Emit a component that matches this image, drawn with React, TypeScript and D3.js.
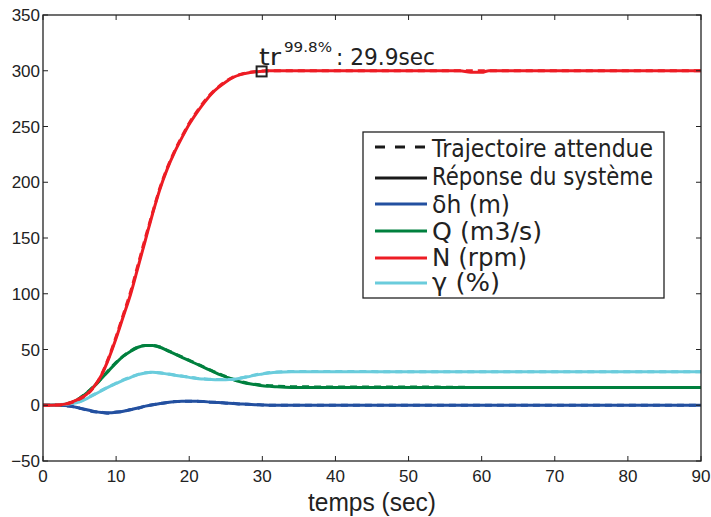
import React from "react";
import * as d3 from "d3";

const TIME = [0,2,3,4,5,6,7,8,9,10,11,12,13,14,15,16,17,18,19,20,21,22,23,24,25,26,27,28,29,30,31,32,34,36,40,50,57,58.5,60,61,70,80,90];

const N_RESP = [0,0.3,1,3,6,10,17,27,42,60,80,100,124,148,172,194,212,227,240,252,262,271,279,285,290,294,296.5,298,299,299.5,300,300,300,300,300,300,300,298.6,298.6,300,300,300,300];
const N_REF = [0,0.2,0.8,2.6,5.5,9.5,16.5,27.5,43,61.5,81.5,102,126,150,173,195,213,228,241,253,263,272,279.5,285.5,290.5,294.3,296.7,298.3,299.2,299.7,300,300,300,300,300,300,300,300,300,300,300,300,300];

const Q_RESP = [0,0.2,0.8,2.5,6,11,17,24,31,38,44,48.5,52,53.5,53.5,52,49,46,43,40,37,34,31,28,25.5,23,21,19.5,18.5,17.5,17,16.5,16,16,16,16,16,16,16,16,16,16,16];
const Q_REF = [0,0.3,1,2.8,6.3,11.3,17.3,24.3,31.5,38.5,44.3,48.8,52.2,53.7,53.6,52.2,49.3,46.3,43.3,40.3,37.3,34.3,31.3,28.3,25.8,23.3,21.3,19.8,18.8,17.9,17.6,17.2,16.7,16.5,16.4,16.3,16.2,16,16,16,16,16,16];

const G_RESP = [0,0.3,0.8,1.5,3,6,9.5,13,16.5,19.5,22.5,25,27.5,29,29.5,29,28,27,26,25,24,23.5,23,22.8,22.8,23.2,24.2,25.5,27,28,29,29.6,30,30,30,30,30,30,30,30,30,30,30];
const G_REF = [0,0.4,1,1.8,3.3,6.3,9.8,13.3,16.8,19.8,22.8,25.3,27.7,29.2,29.6,29.1,28.2,27.2,26.2,25.2,24.3,23.7,23.2,23,23,23.4,24.4,25.7,27.2,28.3,29.3,29.8,30.2,30.2,30.2,30.1,30,30,30,30,30,30,30];

const H_RESP = [0,0,-0.3,-1,-2.5,-4,-5.5,-6.5,-6.8,-6.3,-5.3,-4,-2.5,-0.8,0.5,1.5,2.5,3.2,3.5,3.6,3.6,3.3,2.8,2.4,2,1.6,1.2,0.8,0.5,0.3,0.1,0,0,0,0,0,0,0,0,0,0,0,0];
const H_REF = [0,0,-0.4,-1.2,-2.7,-4.3,-5.8,-6.2,-7.2,-6,-5.6,-3.8,-2.7,-0.6,0.4,1.6,2.4,3.3,3.4,3.7,3.5,3.4,2.7,2.5,1.9,1.7,1.1,0.9,0.4,0.3,0,0,0,0,0,0,0,0,0,0,0,0,0];

const X_TICKS = [0,10,20,30,40,50,60,70,80,90];
const Y_TICKS = [-50,0,50,100,150,200,250,300,350];

const LEGEND_LABELS = ["Trajectoire attendue", "Réponse du système", "δh (m)", "Q (m3/s)", "N (rpm)", "γ (%)"];
const TR_TIME = 29.9;
const TR_VALUE = 299.4;

const COLORS = { h: "#2350A0", q: "#00803E", n: "#ED1C24", g: "#6ACCDC" };

export default function App() {
  const W = 711, H = 517;
  const left = 43, right = 701, top = 15, bottom = 461;
  const x = d3.scaleLinear().domain([0, 90]).range([left, right]);
  const y = d3.scaleLinear().domain([-50, 350]).range([bottom, top]);
  const mk = (vals: number[]) =>
    d3.line<number>().x((_, i) => x(TIME[i])).y((v) => y(v)).curve(d3.curveMonotoneX)(vals) || "";

  const series = [
    { c: COLORS.h, resp: H_RESP, ref: H_REF },
    { c: COLORS.q, resp: Q_RESP, ref: Q_REF },
    { c: COLORS.g, resp: G_RESP, ref: G_REF },
    { c: COLORS.n, resp: N_RESP, ref: N_REF },
  ];

  const tickFont = "'Liberation Sans', Arial, sans-serif";
  const legFont = "'DejaVu Sans', sans-serif";
  const legRows = [
    { yl: 147, yb: 156.5, dash: true, c: "#1a1a1a", tl: 221 },
    { yl: 178, yb: 184.5, dash: false, c: "#1a1a1a", tl: 221 },
    { yl: 204, yb: 212.5, dash: false, c: COLORS.h, tl: 78 },
    { yl: 231, yb: 239.5, dash: false, c: COLORS.q, tl: 110 },
    { yl: 258, yb: 266, dash: false, c: COLORS.n, tl: 95 },
    { yl: 283, yb: 291, dash: false, c: COLORS.g, tl: 68 },
  ];

  return (
    <svg width={W} height={H} style={{ position: "absolute", left: 0, top: 0, background: "#fff" }}>
      <rect x={0} y={0} width={W} height={H} fill="#fff" />
      <defs>
        <clipPath id="plotclip">
          <rect x={left} y={top} width={right - left} height={bottom - top} />
        </clipPath>
      </defs>
      <g clipPath="url(#plotclip)">
        {series.map((s, i) => (
          <g key={i}>
            <path d={mk(s.resp)} fill="none" stroke={s.c} strokeWidth={3} />
            <path d={mk(s.ref)} fill="none" stroke={s.c} strokeWidth={3} strokeDasharray="7,5" />
          </g>
        ))}
      </g>
      {/* frame */}
      <rect x={left} y={top} width={right - left} height={bottom - top} fill="none" stroke="#222" strokeWidth={1.3} />
      {X_TICKS.map((t) => (
        <g key={"x" + t}>
          <line x1={x(t)} x2={x(t)} y1={bottom} y2={bottom - 5} stroke="#222" strokeWidth={1} />
          <line x1={x(t)} x2={x(t)} y1={top} y2={top + 5} stroke="#222" strokeWidth={1} />
          <text x={x(t)} y={482} textAnchor="middle" fontFamily={tickFont} fontSize={17} fill="#222">{t}</text>
        </g>
      ))}
      {Y_TICKS.map((t) => (
        <g key={"y" + t}>
          <line x1={left} x2={left + 5} y1={y(t)} y2={y(t)} stroke="#222" strokeWidth={1} />
          <line x1={right} x2={right - 5} y1={y(t)} y2={y(t)} stroke="#222" strokeWidth={1} />
          <text x={40} y={y(t) + 6} textAnchor="end" fontFamily={tickFont} fontSize={17} fill="#222">{t === -50 ? "\u221250" : t}</text>
        </g>
      ))}
      <text x={372} y={511} textAnchor="middle" fontFamily={tickFont} fontSize={25} fill="#222" textLength={128} lengthAdjust="spacingAndGlyphs">temps (sec)</text>

      {/* annotation */}
      <rect x={x(TR_TIME) - 5} y={y(TR_VALUE) - 5} width={10} height={10} fill="none" stroke="#222" strokeWidth={2} />
      <text x={259} y={65} fontFamily={legFont} fontSize={23} fill="#222" textLength={22} lengthAdjust="spacingAndGlyphs">tr</text>
      <text x={284} y={52} fontFamily={legFont} fontSize={14} fill="#222" textLength={48} lengthAdjust="spacingAndGlyphs">99.8%</text>
      <text x={336} y={65} fontFamily={legFont} fontSize={23} fill="#222" textLength={99} lengthAdjust="spacingAndGlyphs">: 29.9sec</text>

      {/* legend */}
      <rect x={363} y={132} width={301} height={166} fill="#fff" stroke="#222" strokeWidth={1.3} />
      {legRows.map((r, i) => (
        <g key={"l" + i}>
          <line x1={375} x2={427} y1={r.yl} y2={r.yl} stroke={r.c} strokeWidth={3} strokeDasharray={r.dash ? "10,10" : undefined} />
          <text x={432} y={r.yb} fontFamily={legFont} fontSize={24} fill="#222" textLength={r.tl} lengthAdjust="spacingAndGlyphs">{LEGEND_LABELS[i]}</text>
        </g>
      ))}
    </svg>
  );
}
